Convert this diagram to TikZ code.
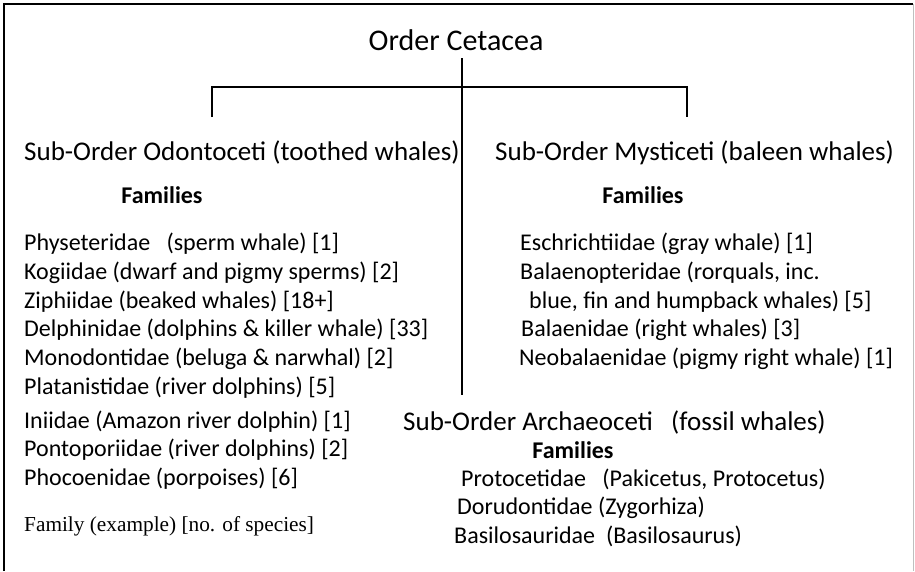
\documentclass[tikz,border=0pt]{standalone}
\usepackage{fontspec}
\setmainfont{Carlito}
\newfontfamily\tnr{Liberation Serif}
\begin{document}
\begin{tikzpicture}[x=1pt,y=-1pt,
  txt/.style={anchor=base west,inner sep=0pt,font=\fontsize{24}{29}\selectfont},
  sub/.style={anchor=base west,inner sep=0pt,font=\fontsize{27}{32}\selectfont},
  fam/.style={anchor=base,inner sep=0pt,font=\fontsize{24}{29}\selectfont\bfseries},
  ln/.style={line width=1.5pt,black}]
\useasboundingbox (0,0) rectangle (915,571);
\draw[line width=1.8pt] (4,571) -- (4,4) -- (913,4);
\draw[line width=0.8pt,black!25] (913.5,4) -- (913.5,571);
% title
\node[anchor=base,inner sep=0pt,font=\fontsize{30}{36}\selectfont] (title) at (456,50) {Order Cetacea};
% connectors
\coordinate (top) at (462,58);
\coordinate (bot) at (462,395);
\coordinate (bl) at (212,87);
\coordinate (br) at (687,87);
\coordinate (bl2) at (212,117);
\coordinate (br2) at (687,117);
\draw[ln] (top) -- (bot);
\draw[ln] (bl2) -- (bl) -- (br) -- (br2);
% sub-orders
\node[sub] (odon) at (24,160) {Sub-Order Odontoceti (toothed whales)};
\node[sub] (myst) at (495,160) {Sub-Order Mysticeti (baleen whales)};
\node[sub] (arch) at (403,430) {Sub-Order Archaeoceti\ \ \ (fossil whales)};
% families headings
\node[fam] (famL) at (162,203) {Families};
\node[fam] (famR) at (643,203) {Families};
\node[fam] (famA) at (573,458) {Families};
% left list
\node[txt] (l1) at (24,250) {Physeteridae\ \ \ (sperm whale) [1]};
\node[txt] (l2) at (24,279) {Kogiidae (dwarf and pigmy sperms) [2]};
\node[txt] (l3) at (24,308) {Ziphiidae (beaked whales) [18+]};
\node[txt] (l4) at (24,336) {Delphinidae (dolphins \& killer whale) [33]};
\node[txt] (l5) at (24,365) {Monodontidae (beluga \& narwhal) [2]};
\node[txt] (l6) at (24,394) {Platanistidae (river dolphins) [5]};
\node[txt] (l7) at (24,428) {Iniidae (Amazon river dolphin) [1]};
\node[txt] (l8) at (24,456) {Pontoporiidae (river dolphins) [2]};
\node[txt] (l9) at (24,485) {Phocoenidae (porpoises) [6]};
\node[anchor=base west,inner sep=0pt,font=\tnr\fontsize{21.3}{25}\selectfont] (note) at (24,531) {Family (example) [no. of species]};
% right list
\node[txt] (r1) at (520,250) {Eschrichtiidae (gray whale) [1]};
\node[txt] (r2) at (520,279) {Balaenopteridae (rorquals, inc.};
\node[txt] (r3) at (529,308) {blue, fin and humpback whales) [5]};
\node[txt] (r4) at (521,336) {Balaenidae (right whales) [3]};
\node[txt] (r5) at (519,365) {Neobalaenidae (pigmy right whale) [1]};
% archaeoceti list
\node[txt] (a1) at (461,486) {Protocetidae\ \ \ (Pakicetus, Protocetus)};
\node[txt] (a2) at (457,514) {Dorudontidae (Zygorhiza)};
\node[txt] (a3) at (454,543) {Basilosauridae\ \ (Basilosaurus)};
\end{tikzpicture}
\end{document}
